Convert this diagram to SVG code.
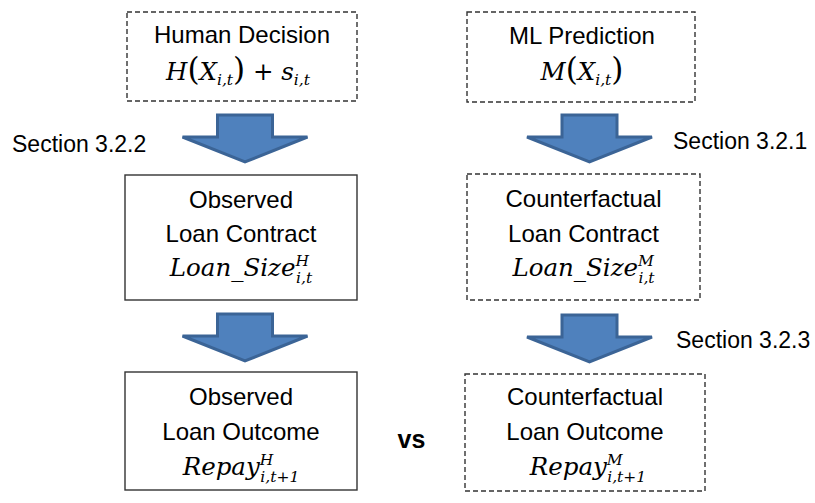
<svg xmlns="http://www.w3.org/2000/svg" width="815" height="503" viewBox="0 0 815 503">
<style>
.box{fill:#ffffff;stroke:#333333;stroke-width:1.4}
.dash{stroke-dasharray:5 3}
.t{font-family:"Liberation Sans",Arial,sans-serif;font-size:24px;fill:#000000;text-anchor:middle}
.sec{font-family:"Liberation Sans",Arial,sans-serif;font-size:23px;fill:#000000}
.m{font-family:"DejaVu Serif","Liberation Serif",serif;font-style:italic;font-size:24.5px;fill:#000000;text-anchor:middle}
.s{font-size:15.5px}
.p{font-style:normal;font-size:31px;font-family:"DejaVu Serif",serif}
.arr{fill:#4f81bd;stroke:#3b6496;stroke-width:3;stroke-linejoin:miter}
</style>
<defs>
<path id="arrow" d="M-27.5,0 H27.5 V22 H62.5 L0,47 L-62.5,22 H-27.5 Z"/>
</defs>
<rect width="815" height="503" fill="#ffffff"/>
<g id="connectors">
<use href="#arrow" class="arr" transform="translate(245,115)"/>
<use href="#arrow" class="arr" transform="translate(589.5,115)"/>
<use href="#arrow" class="arr" transform="translate(245,314)"/>
<use href="#arrow" class="arr" transform="translate(589.5,315)"/>
<text class="sec" x="12" y="152">Section 3.2.2</text>
<text class="sec" x="673" y="149">Section 3.2.1</text>
<text class="sec" x="676" y="348">Section 3.2.3</text>
</g>
<g id="human-decision">
<rect class="box dash" x="127" y="12" width="230" height="89"/>
<text class="t" x="242" y="43">Human Decision</text>
<text class="m" x="238" y="80">H<tspan class="p">(</tspan>X<tspan class="s" dy="5">i,t</tspan><tspan class="p" dy="-5">)</tspan><tspan font-style="normal"> + </tspan>s<tspan class="s" dy="5">i,t</tspan></text>
</g>
<g id="ml-prediction">
<rect class="box dash" x="467" y="12" width="228" height="90"/>
<text class="t" x="582" y="44">ML Prediction</text>
<text class="m" x="582" y="80">M<tspan class="p">(</tspan>X<tspan class="s" dy="5">i,t</tspan><tspan class="p" dy="-5">)</tspan></text>
</g>
<g id="observed-contract">
<rect class="box" x="125" y="175" width="232" height="125"/>
<text class="t" x="241" y="208">Observed</text>
<text class="t" x="241" y="242">Loan Contract</text>
<text class="m" x="241" y="276">Loan_Size<tspan class="s" dy="-10">H</tspan><tspan class="s" dx="-13" dy="17">i,t</tspan></text>
</g>
<g id="counterfactual-contract">
<rect class="box dash" x="467" y="174" width="233" height="126"/>
<text class="t" x="583.5" y="207">Counterfactual</text>
<text class="t" x="583.5" y="242">Loan Contract</text>
<text class="m" x="583.5" y="276">Loan_Size<tspan class="s" dy="-10">M</tspan><tspan class="s" dx="-15.5" dy="17">i,t</tspan></text>
</g>
<g id="observed-outcome">
<rect class="box" x="125" y="372" width="232" height="118"/>
<text class="t" x="241" y="405">Observed</text>
<text class="t" x="241" y="440">Loan Outcome</text>
<text class="m" x="241" y="475">Repay<tspan class="s" dy="-10">H</tspan><tspan class="s" dx="-13" dy="17">i,t+1</tspan></text>
</g>
<g id="counterfactual-outcome">
<rect class="box dash" x="465" y="374" width="240" height="117"/>
<text class="t" x="585" y="405">Counterfactual</text>
<text class="t" x="585" y="440">Loan Outcome</text>
<text class="m" x="588" y="475">Repay<tspan class="s" dy="-10">M</tspan><tspan class="s" dx="-15.5" dy="17">i,t+1</tspan></text>
</g>
<g id="vs">
<text x="411.5" y="448" font-family="Liberation Sans,Arial,sans-serif" font-size="25" font-weight="bold" text-anchor="middle">vs</text>
</g>
</svg>
